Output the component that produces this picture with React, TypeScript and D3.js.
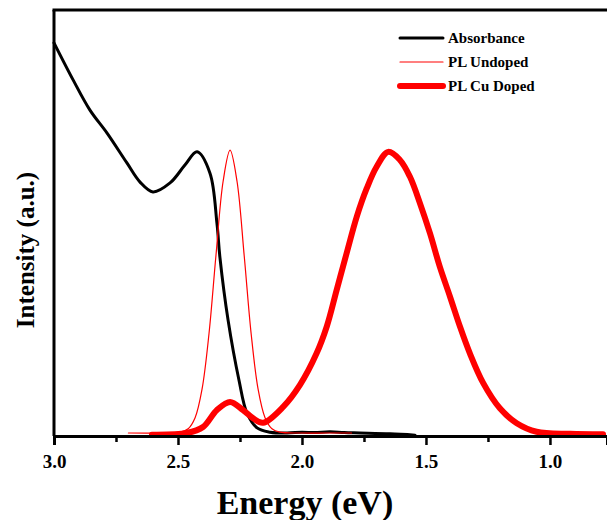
import { useEffect, useRef } from "react";
import * as d3 from "d3";

// energies (eV) and intensities (a.u.)
const absEnergy = [3.0, 2.923, 2.855, 2.786, 2.706, 2.653, 2.601, 2.532, 2.472, 2.423, 2.371, 2.343, 2.331, 2.298, 2.254, 2.222, 2.181, 2.129, 2.06, 2.0, 1.95, 1.887, 1.83, 1.766, 1.645, 1.544];
const absValue = [92.3, 83.6, 76.5, 71.1, 64.1, 59.6, 57.3, 59.4, 63.6, 66.7, 61.7, 50.0, 42.0, 27.2, 13.1, 5.4, 1.9, 0.9, 0.7, 0.9, 0.8, 1.0, 0.8, 0.7, 0.5, 0.2];

const undopedEnergy = [2.70, 2.55, 2.49, 2.459, 2.431, 2.403, 2.375, 2.347, 2.318, 2.290, 2.262, 2.233, 2.205, 2.177, 2.149, 2.121, 2.09, 2.0, 1.90, 1.80];
const undopedValue = [0.7, 0.7, 0.9, 1.7, 4.3, 11.0, 24.0, 42.3, 59.8, 67.1, 59.8, 42.3, 24.0, 11.0, 4.3, 1.7, 0.9, 0.7, 0.7, 0.7];

const cuEnergy = [2.605, 2.464, 2.399, 2.343, 2.290, 2.238, 2.198, 2.157, 2.075, 2.008, 1.941, 1.900, 1.860, 1.820, 1.779, 1.739, 1.699, 1.652, 1.605, 1.565, 1.524, 1.484, 1.444, 1.403, 1.363, 1.323, 1.269, 1.202, 1.134, 1.054, 0.919, 0.786];
const cuValue = [0.3, 0.7, 2.1, 6.1, 8.0, 6.1, 4.2, 3.1, 6.9, 12.0, 19.4, 25.7, 34.3, 42.9, 51.5, 58.1, 63.2, 66.7, 64.8, 60.9, 54.6, 47.6, 39.7, 32.7, 25.7, 19.4, 12.4, 6.5, 3.0, 1.0, 0.5, 0.4];

const tickMajor = [3.0, 2.5, 2.0, 1.5, 1.0];
const tickMinor = [2.75, 2.25, 1.75, 1.25, 0.75];

const series = [
  { name: "Absorbance", x: absEnergy, y: absValue, color: "#000000", width: 3 },
  { name: "PL Undoped", x: undopedEnergy, y: undopedValue, color: "#ff0000", width: 1.2 },
  { name: "PL Cu Doped", x: cuEnergy, y: cuValue, color: "#ff0000", width: 6 },
];

export default function App() {
  const ref = useRef<SVGSVGElement>(null);

  useEffect(() => {
    const W = 607;
    const left = 54, top = 10, bottom = 436;
    const svg = d3.select(ref.current);
    svg.selectAll("*").remove();

    const x = d3.scaleLinear().domain([3.0, 0.77]).range([left, W]);
    const y = d3.scaleLinear().domain([0, 100]).range([bottom, top]);
    const font = "'Liberation Serif', 'Times New Roman', serif";

    const line = d3.line<[number, number]>()
      .x(d => x(d[0]))
      .y(d => y(d[1]))
      .curve(d3.curveCatmullRom.alpha(0.5));

    // curves
    series.forEach(s => {
      const pts = s.x.map((e, i) => [e, s.y[i]] as [number, number]);
      svg.append("path")
        .attr("d", line(pts))
        .attr("fill", "none")
        .attr("stroke", s.color)
        .attr("stroke-width", s.width)
        .attr("stroke-linejoin", "round")
        .attr("stroke-linecap", "round");
    });

    // frame
    svg.append("line").attr("x1", left).attr("x2", left).attr("y1", top).attr("y2", bottom)
      .attr("stroke", "#000").attr("stroke-width", 3);
    svg.append("line").attr("x1", left - 1.5).attr("x2", W).attr("y1", top).attr("y2", top)
      .attr("stroke", "#000").attr("stroke-width", 3);

    // x axis
    const ax = svg.append("g").attr("transform", `translate(0,${bottom})`);
    ax.call(d3.axisBottom(x).tickValues(tickMinor).tickSize(6).tickFormat(() => ""));
    ax.call(g => g.append("g").call(
      d3.axisBottom(x).tickValues(tickMajor).tickSize(9).tickPadding(10).tickFormat(d3.format(".1f"))
    ));
    ax.selectAll(".domain").attr("stroke-width", 3);
    ax.selectAll("line").attr("stroke-width", 2.5);
    ax.selectAll("text")
      .attr("font-family", font)
      .attr("font-weight", "bold")
      .attr("font-size", 19)
      .attr("fill", "#000");

    svg.append("text")
      .attr("x", (x(3.0) + x(1.0)) / 2 + 3)
      .attr("y", 514)
      .attr("text-anchor", "middle")
      .attr("font-family", font)
      .attr("font-weight", "bold")
      .attr("font-size", 34)
      .text("Energy (eV)");

    svg.append("text")
      .attr("transform", `translate(34,250) rotate(-90)`)
      .attr("text-anchor", "middle")
      .attr("font-family", font)
      .attr("font-weight", "bold")
      .attr("font-size", 25)
      .text("Intensity (a.u.)");

    // legend
    const lg = svg.append("g").attr("transform", "translate(400,38)");
    series.forEach((s, i) => {
      lg.append("line")
        .attr("x1", 0).attr("x2", 43)
        .attr("y1", i * 24).attr("y2", i * 24)
        .attr("stroke", s.color)
        .attr("stroke-width", s.width)
        .attr("stroke-linecap", "round");
      lg.append("text")
        .attr("x", 48).attr("y", i * 24 + 5)
        .attr("font-family", font)
        .attr("font-weight", "bold")
        .attr("font-size", 15)
        .text(s.name);
    });
  }, []);

  return (
    <svg ref={ref} width={607} height={520}
      style={{ position: "fixed", left: 0, top: 0, background: "#fff" }} />
  );
}
